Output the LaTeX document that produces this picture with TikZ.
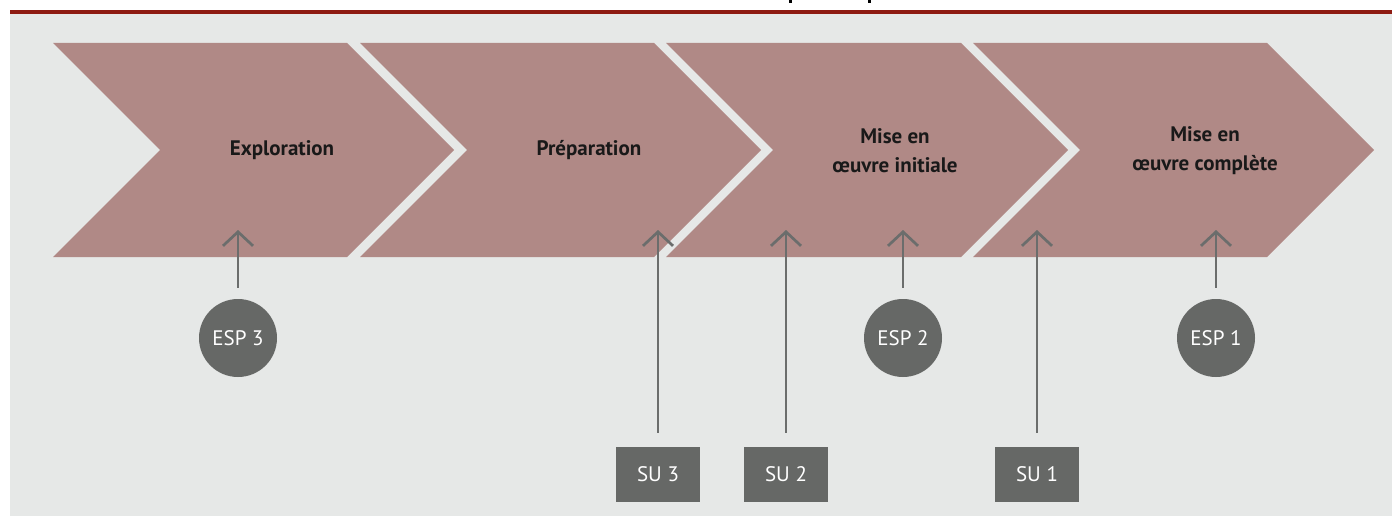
\documentclass[tikz,border=0pt]{standalone}
\usepackage{fontspec}
\setmainfont{PT Sans}
\usetikzlibrary{arrows.meta}
\definecolor{bg}{HTML}{E6E8E7}
\definecolor{chev}{HTML}{B08986}
\definecolor{dk}{HTML}{666866}
\definecolor{arr}{HTML}{6B6D6C}
\definecolor{rline}{HTML}{8E1B12}
\begin{document}
\begin{tikzpicture}[x=1pt,y=-1pt,
  chevron/.style={fill=chev},
  steplabel/.style={font=\bfseries\fontsize{21}{29}\selectfont, align=center, text=black!90, inner sep=0},
  esp/.style={circle, fill=dk, minimum size=78pt, inner sep=0, text=white, font=\fontsize{21}{24}\selectfont},
  subox/.style={rectangle, fill=dk, minimum width=84pt, minimum height=55pt, inner sep=0, text=white, font=\fontsize{21}{24}\selectfont},
  conn/.style={draw=arr, line width=2.7pt, -{Straight Barb[length=14pt,width=30pt]}}]
\useasboundingbox (0,0) rectangle (1392,516);
\fill[bg] (10,14) rectangle (1392,516);
\fill[rline] (10,10.5) rectangle (1392,14);
\fill[black] (789,0) rectangle (792,3.5);
\fill[black] (868,0) rectangle (871,3.5);
% chevrons
\fill[chevron] (53,43) -- (347,43) -- (454,150) -- (347,257) -- (53,257) -- (160,150) -- cycle;
\fill[chevron] (360,43) -- (654,43) -- (761,150) -- (654,257) -- (360,257) -- (467,150) -- cycle;
\fill[chevron] (666,43) -- (961,43) -- (1068,150) -- (961,257) -- (666,257) -- (773,150) -- cycle;
\fill[chevron] (973,43) -- (1267,43) -- (1374,150) -- (1267,257) -- (973,257) -- (1080,150) -- cycle;
% labels
\node[steplabel] (l1) at (282,150) {Exploration};
\node[steplabel] (l2) at (589,150) {Préparation};
\node[steplabel] (l3) at (895,151) {Mise en\\œuvre initiale};
\node[steplabel] (l4) at (1205,151) {Mise en\\œuvre complète};
% arrow targets
\coordinate (t1) at (238,230);
\coordinate (t2) at (658,230);
\coordinate (t3) at (786,230);
\coordinate (t4) at (903,230);
\coordinate (t5) at (1037,230);
\coordinate (t6) at (1216,230);
% ESP circles
\node[esp] (esp3) at (238,338) {ESP 3};
\node[esp] (esp2) at (903,338) {ESP 2};
\node[esp] (esp1) at (1216,338) {ESP 1};
% SU boxes
\node[subox] (su3) at (658,474.5) {SU 3};
\node[subox] (su2) at (786,474.5) {SU 2};
\node[subox] (su1) at (1037,474.5) {SU 1};
% connectors
\draw[conn, shorten <=11pt] (esp3.north) -- (t1);
\draw[conn, shorten <=11pt] (esp2.north) -- (t4);
\draw[conn, shorten <=11pt] (esp1.north) -- (t6);
\draw[conn, shorten <=14pt] (su3.north) -- (t2);
\draw[conn, shorten <=14pt] (su2.north) -- (t3);
\draw[conn, shorten <=14pt] (su1.north) -- (t5);
\end{tikzpicture}
\end{document}
